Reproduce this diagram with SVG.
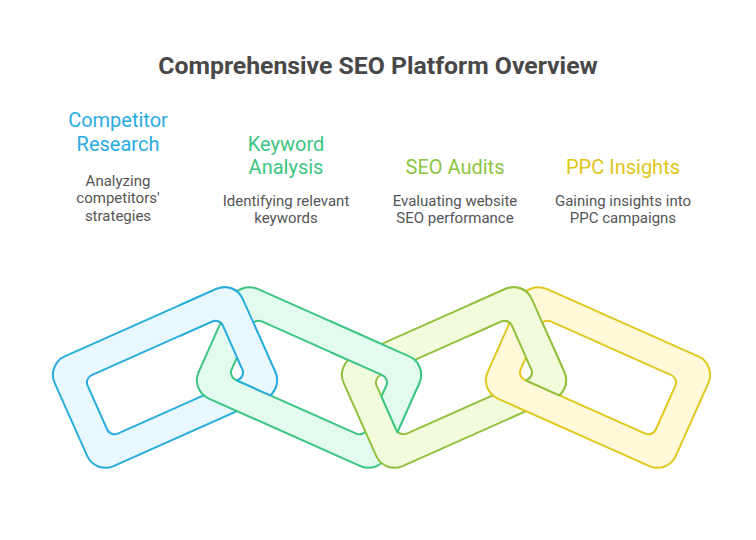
<svg xmlns="http://www.w3.org/2000/svg" xmlns:xlink="http://www.w3.org/1999/xlink" width="756" height="540" viewBox="0 0 756 540">
  <style>
    .title { font-family: Roboto, "Liberation Sans", sans-serif; font-weight: 700; font-size: 24.8px; fill: #484848; text-anchor: middle; }
    .head { font-family: Roboto, "Liberation Sans", sans-serif; font-size: 20px; text-anchor: middle; }
    .desc { font-family: Roboto, "Liberation Sans", sans-serif; font-size: 15px; fill: #555555; text-anchor: middle; }
    .ring { stroke-width: 2; stroke-linejoin: round; }
    .seam { stroke-width: 2; stroke-linecap: round; fill: none; }
    .blue { fill: #E8F8FE; stroke: #2AACDC; }
    .green { fill: #E2FBEE; stroke: #3CC583; }
    .lime { fill: #F2FCDD; stroke: #92C13E; }
    .yellow { fill: #FFF9D9; stroke: #E2C81E; }
  </style>
  <defs>
    <path id="ring" fill-rule="evenodd" d="M -83,-60 H 83 A 20 20 0 0 1 103,-40 V 40 A 20 20 0 0 1 83,60 H -83 A 20 20 0 0 1 -103,40 V -40 A 20 20 0 0 1 -83,-60 Z M -66,-32 H 66 A 8 8 0 0 1 74,-24 V 24 A 8 8 0 0 1 66,32 H -66 A 8 8 0 0 1 -74,24 V -24 A 8 8 0 0 1 -66,-32 Z"/>
    <clipPath id="clipBlue"><polygon points="180,250 320,250 320,417.4 180,355.1"/></clipPath>
    <clipPath id="clipGreen"><polygon points="330,250 500,250 500,480 418.6,480 376.6,385.7 330,365"/></clipPath>
    <clipPath id="clipLime"><polygon points="469,250 609,250 609,417.4 469,355.1"/></clipPath>
  </defs>
  <rect width="756" height="540" fill="#FFFFFF"/>
  <text class="title" x="378" y="73.5">Comprehensive SEO Platform Overview</text>

  <g id="node-competitor-research">
    <use xlink:href="#ring" href="#ring" class="ring blue" transform="translate(165 377.5) rotate(-24)"/>
    <text class="head" x="118" y="126.5" fill="#29ABE2">Competitor</text>
    <text class="head" x="118" y="150.5" fill="#29ABE2">Research</text>
    <text class="desc" x="118" y="185.5">Analyzing</text>
    <text class="desc" x="118" y="203">competitors'</text>
    <text class="desc" x="118" y="220.5">strategies</text>
  </g>

  <g id="node-keyword-analysis">
    <use xlink:href="#ring" href="#ring" class="ring green" transform="translate(309 377.5) rotate(24)"/>
    <text class="head" x="286" y="150.5" fill="#3CC583">Keyword</text>
    <text class="head" x="286" y="174" fill="#3CC583">Analysis</text>
    <text class="desc" x="286" y="205.5">Identifying relevant</text>
    <text class="desc" x="286" y="223">keywords</text>
  </g>

  <g id="node-seo-audits">
    <use xlink:href="#ring" href="#ring" class="ring lime" transform="translate(454 377.5) rotate(-24)"/>
    <text class="head" x="455" y="174" fill="#8DC63F">SEO Audits</text>
    <text class="desc" x="455" y="205.5">Evaluating website</text>
    <text class="desc" x="455" y="223">SEO performance</text>
  </g>

  <g id="node-ppc-insights">
    <use xlink:href="#ring" href="#ring" class="ring yellow" transform="translate(598 377.5) rotate(24)"/>
    <text class="head" x="623" y="174" fill="#E0C51A">PPC Insights</text>
    <text class="desc" x="623" y="205.5">Gaining insights into</text>
    <text class="desc" x="623" y="223">PPC campaigns</text>
  </g>

  <g id="connectors">
    <g clip-path="url(#clipBlue)">
      <use xlink:href="#ring" href="#ring" class="ring blue" transform="translate(165 377.5) rotate(-24)"/>
    </g>
    <line class="seam" x1="237.05" y1="380.5" x2="270.3" y2="395.3" stroke="#2AACDC"/>
    <g clip-path="url(#clipGreen)">
      <use xlink:href="#ring" href="#ring" class="ring green" transform="translate(309 377.5) rotate(24)"/>
    </g>
    <line class="seam" x1="381.5" y1="396.6" x2="397.4" y2="432.3" stroke="#3CC583"/>
    <g clip-path="url(#clipLime)">
      <use xlink:href="#ring" href="#ring" class="ring lime" transform="translate(454 377.5) rotate(-24)"/>
    </g>
    <line class="seam" x1="526.05" y1="380.5" x2="559.3" y2="395.3" stroke="#92C13E"/>
  </g>
</svg>
